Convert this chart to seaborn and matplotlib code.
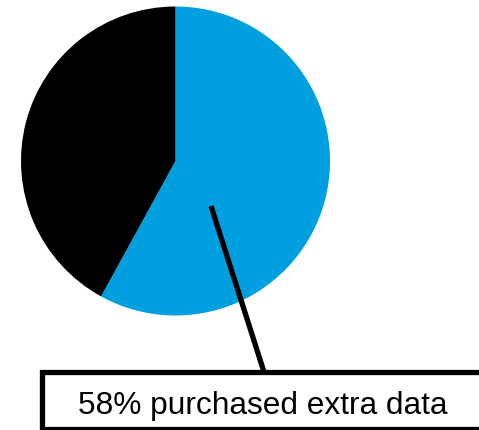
import matplotlib
matplotlib.use("Agg")
import matplotlib.pyplot as plt
import seaborn as sns
from matplotlib.patches import Rectangle

sns.set_theme(style="white")
plt.rcParams['font.family'] = ['Liberation Sans', 'DejaVu Sans']

labels = ["Purchased extra data", "Did not purchase"]
values = [58, 42]
colors = ["#009FDF", "#000000"]
annotation = "58% purchased extra data"

W, H = 479, 431
fig = plt.figure(figsize=(W / 100, H / 100), dpi=100)
ax = fig.add_axes([0, 0, 1, 1])

ax.pie(values, colors=colors, startangle=90, counterclock=False,
       center=(175.5, H - 162), radius=154.5, frame=True,
       wedgeprops=dict(linewidth=0))
ax.set_xlim(0, W)
ax.set_ylim(0, H)
ax.set_aspect("equal")
ax.axis("off")

# leader line
ax.plot([211, 264], [H - 207, H - 373], color="black", lw=3.8,
        solid_capstyle="butt")
# label box
ax.add_patch(Rectangle((42, H - 430), 445, 57, fill=True, facecolor="white",
                       edgecolor="black", lw=3.8))
ax.text(263, H - 406, annotation, ha="center", va="center", fontsize=22.8,
        color="black")

fig.savefig("out.png", dpi=100)
